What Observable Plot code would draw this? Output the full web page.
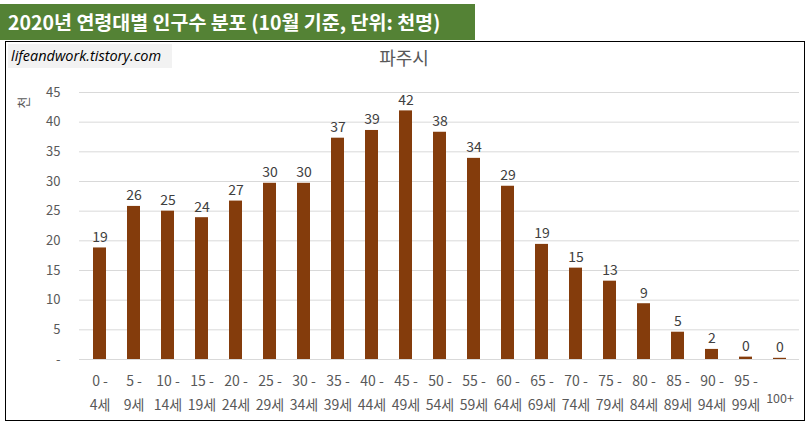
<!DOCTYPE html>
<html>
<head>
<meta charset="utf-8">
<script src="https://cdn.jsdelivr.net/npm/d3@7"></script>
<script src="https://cdn.jsdelivr.net/npm/@observablehq/plot@0.6"></script>
<style>
  html, body { margin: 0; padding: 0; background: #fff; }
  #wrap { position: relative; width: 810px; height: 431px; overflow: hidden; font-family: "Noto Sans CJK KR", "Noto Sans", sans-serif; }
  #banner { position: absolute; left: 0; top: 4px; width: 475px; height: 36px; background: #548235; color: #fff; font-weight: bold; font-size: 19.5px; line-height: 36px; padding-left: 8px; box-sizing: border-box; white-space: nowrap; }
  #box { position: absolute; left: 5px; top: 41px; width: 800px; height: 380px; border: 1px solid #000; box-sizing: border-box; }
  #mark { position: absolute; left: 8px; top: 44px; width: 164px; height: 24px; background: #f2f2f2; font-style: italic; font-size: 14.5px; line-height: 24px; padding-left: 3px; box-sizing: border-box; color: #000; font-family: "Open Sans", "Noto Sans", sans-serif; white-space: nowrap; }
  #title { position: absolute; left: 0; width: 808px; top: 46px; text-align: center; font-size: 18px; color: #595959; line-height: 22px; }
  #chart { position: absolute; left: 6px; top: 42px; }
</style>
</head>
<body>
<div id="wrap">
  <div id="banner">2020년 연령대별 인구수 분포 (10월 기준, 단위: 천명)</div>
  <div id="box"></div>
  <div id="mark">lifeandwork.tistory.com</div>
  <div id="title">파주시</div>
  <div id="chart"></div>
</div>
<script>
const categories = ["0 -\n4세", "5 -\n9세", "10 -\n14세", "15 -\n19세", "20 -\n24세", "25 -\n29세", "30 -\n34세", "35 -\n39세", "40 -\n44세", "45 -\n49세", "50 -\n54세", "55 -\n59세", "60 -\n64세", "65 -\n69세", "70 -\n74세", "75 -\n79세", "80 -\n84세", "85 -\n89세", "90 -\n94세", "95 -\n99세", "100+"];
const values = [18.8, 25.8, 25.0, 23.9, 26.7, 29.7, 29.7, 37.3, 38.6, 41.9, 38.3, 33.9, 29.2, 19.4, 15.4, 13.2, 9.4, 4.6, 1.7, 0.4, 0.2];
const yTicks = [0, 5, 10, 15, 20, 25, 30, 35, 40, 45];
const yLabel = "천";

const data = categories.map((c, i) => ({cat: c, value: values[i]}));

const chart = Plot.plot({
  width: 798,
  height: 378,
  marginTop: 50,
  marginBottom: 61,
  marginLeft: 73,
  marginRight: 5,
  style: {fontFamily: "'Noto Sans CJK KR', 'Noto Sans', sans-serif", fontSize: "14px", color: "#595959", background: "transparent"},
  x: {domain: categories, paddingInner: 0.62, paddingOuter: 0.31, label: null},
  y: {domain: [0, 45], label: null},
  marks: [
    Plot.ruleY(yTicks, {stroke: "#d9d9d9", strokeWidth: 1}),
    Plot.barY(data, {x: "cat", y: "value", fill: "#843C0C"}),
    Plot.text(data, {x: "cat", y: "value", text: d => String(Math.round(d.value)), lineAnchor: "bottom", dy: -6, fill: "#404040", fontSize: 14}),
    Plot.axisY({ticks: yTicks, tickSize: 0, tickPadding: 19, tickFormat: d => d === 0 ? "-" : String(d), fontSize: 13, fill: "#595959", label: null}),
    Plot.axisX({ticks: categories.slice(0, 20), tickSize: 0, tickPadding: 9, lineHeight: 1.75, fontSize: 14, fill: "#595959", label: null}),
    Plot.axisX({ticks: categories.slice(20), tickSize: 0, tickPadding: 35, fontSize: 12.5, fill: "#595959", label: null}),
    Plot.text([yLabel], {frameAnchor: "top-left", dx: -61, dy: 16, rotate: -90, fontSize: 13, fill: "#595959", text: d => d})
  ]
});
document.getElementById("chart").appendChild(chart);
</script>
</body>
</html>
